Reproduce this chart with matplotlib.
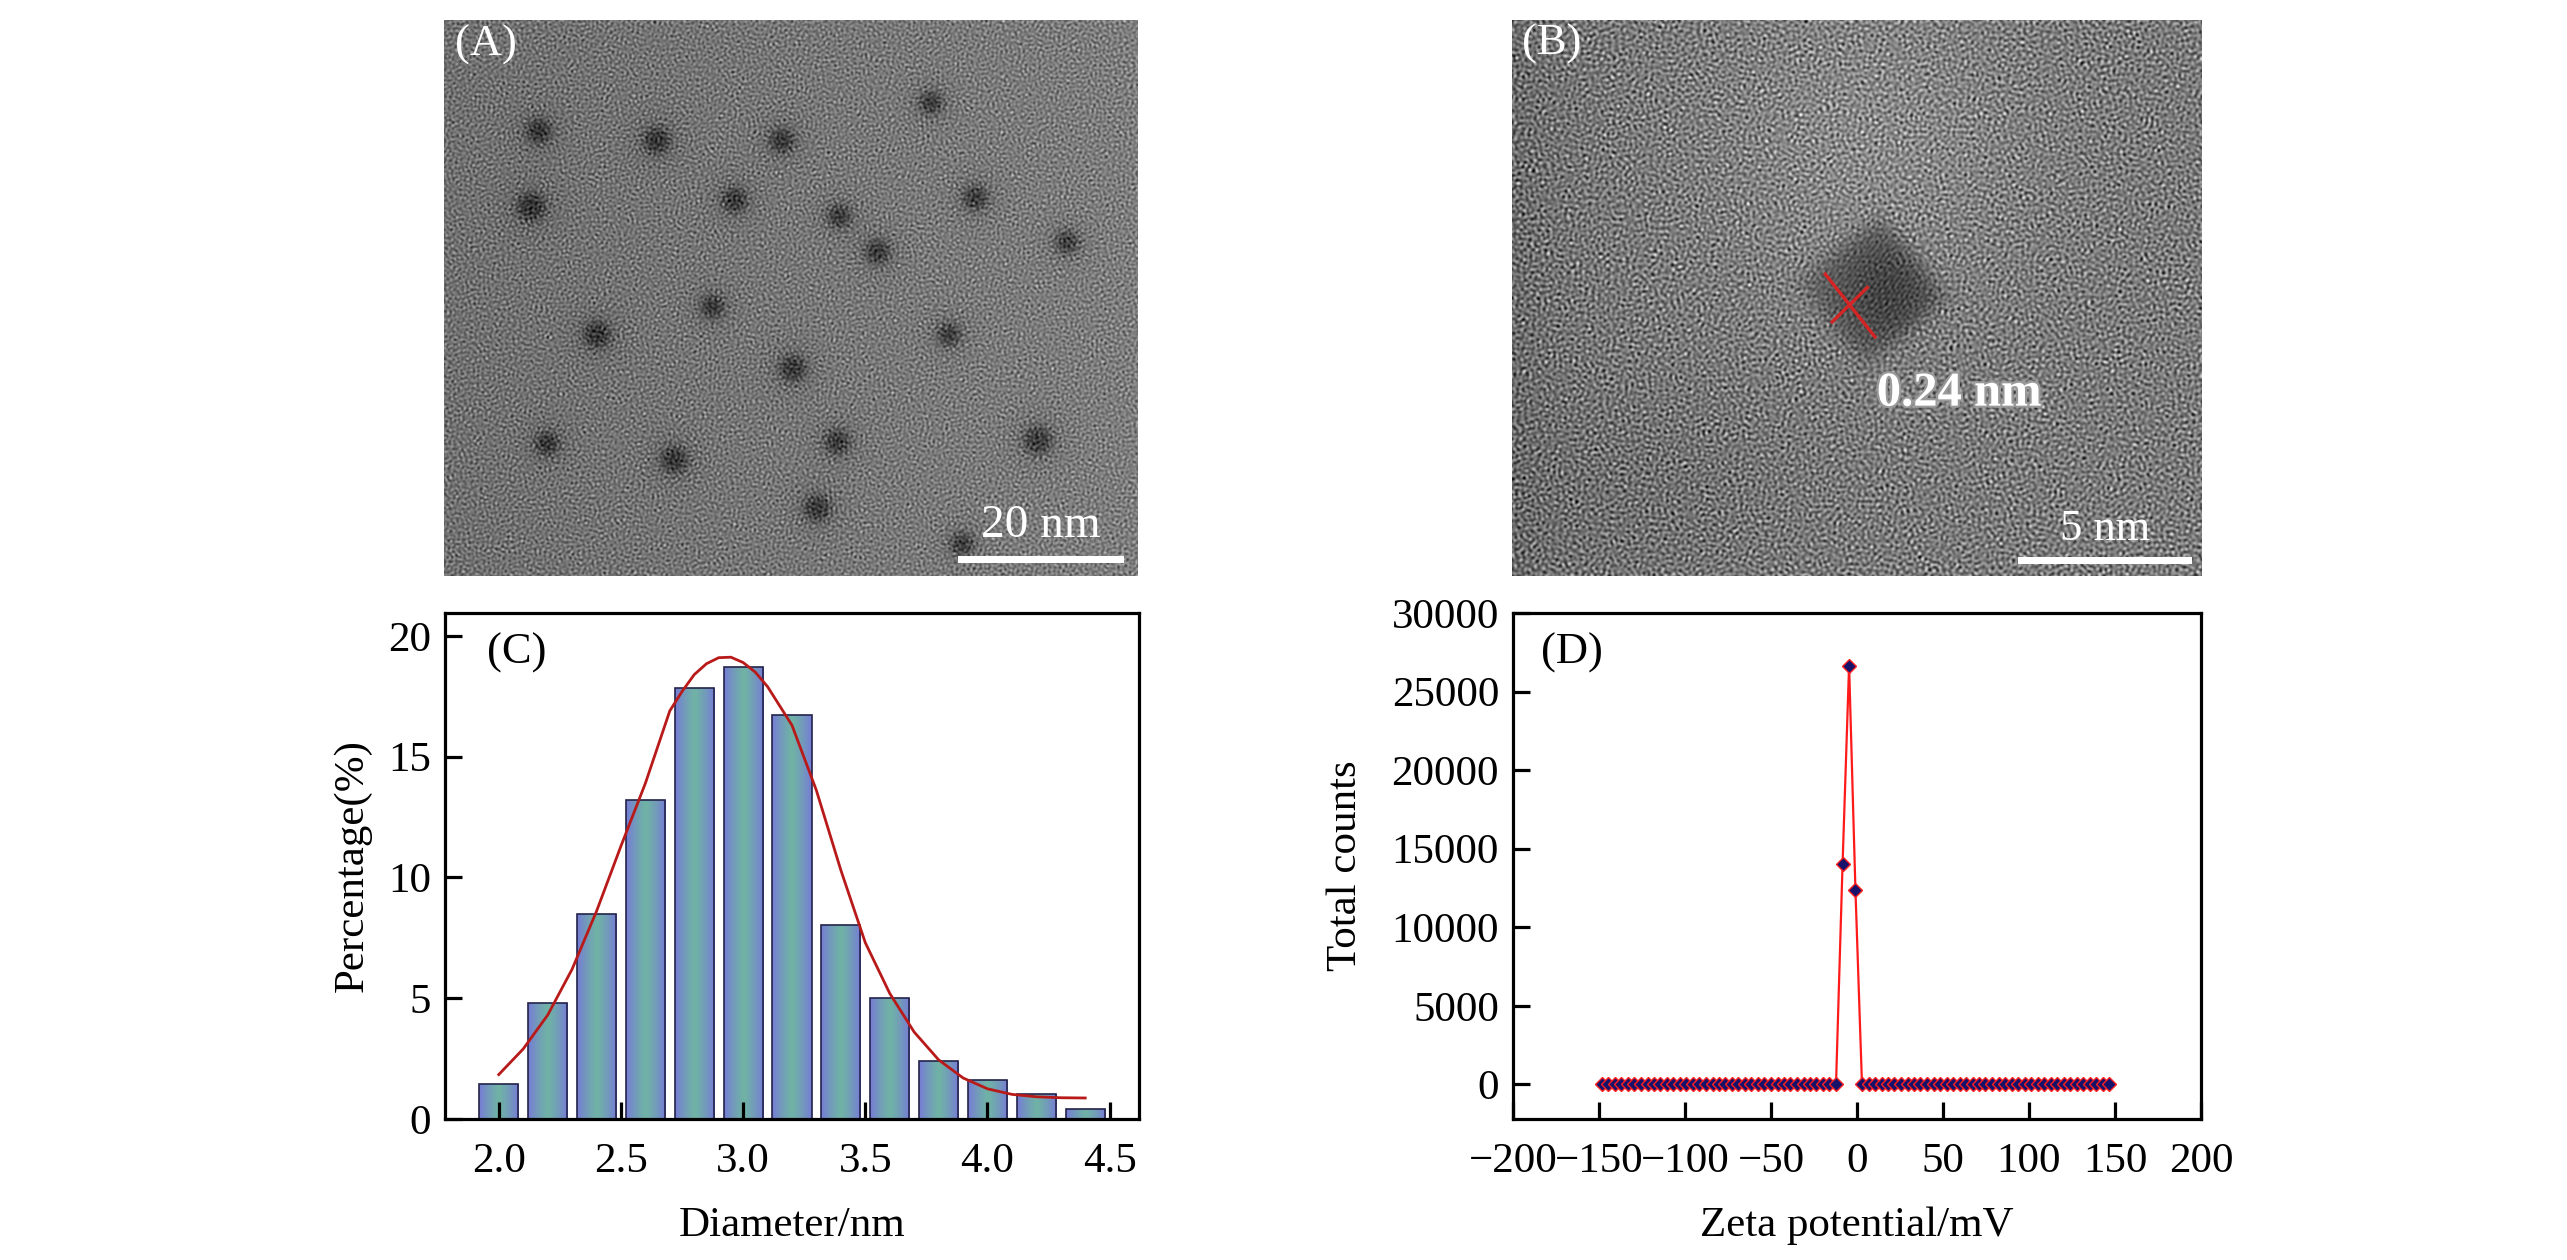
import numpy as np
import matplotlib.pyplot as plt
import matplotlib.patheffects as pe
from matplotlib.patches import Rectangle

plt.rcParams['font.family'] = ['Liberation Serif', 'DejaVu Serif']
plt.rcParams['axes.unicode_minus'] = True

# ---- (C) particle size distribution ----
diameter = [2.0, 2.2, 2.4, 2.6, 2.8, 3.0, 3.2, 3.4, 3.6, 3.8, 4.0, 4.2, 4.4]
percentage = [1.45, 4.79, 8.50, 13.19, 17.86, 18.70, 16.74, 8.04, 4.99, 2.40, 1.62, 1.03, 0.41]

# fitted curve
fit_x = [2.0, 2.1, 2.2, 2.3, 2.4, 2.5, 2.6, 2.7, 2.75, 2.8, 2.85, 2.9, 2.95,
         3.0, 3.05, 3.1, 3.2, 3.3, 3.4, 3.5, 3.6, 3.7, 3.8, 3.9, 4.0, 4.1,
         4.2, 4.3, 4.4]
fit_y = [1.84, 2.9, 4.3, 6.2, 8.6, 11.3, 13.9, 16.9, 17.7, 18.4, 18.85, 19.1, 19.12,
         18.9, 18.5, 17.9, 16.3, 13.6, 10.3, 7.3, 5.2, 3.6, 2.45, 1.7, 1.25, 1.02,
         0.92, 0.88, 0.87]

# ---- (D) zeta potential distribution ----
zeta_mv = [-148.3, -144.5, -140.7, -137.0, -133.2, -129.4, -125.6, -121.8, -118.1,
           -114.3, -110.5, -106.7, -102.9, -99.2, -95.4, -91.6, -87.8, -84.0,
           -80.3, -76.5, -72.7, -68.9, -65.1, -61.4, -57.6, -53.8, -50.0, -46.2,
           -42.5, -38.7, -34.9, -31.1, -27.3, -23.6, -19.8, -16.0, -12.2, -8.4,
           -4.6, -0.9, 2.9, 6.7, 10.5, 14.3, 18.0, 21.8, 25.6, 29.4, 33.2, 36.9,
           40.7, 44.5, 48.3, 52.1, 55.8, 59.6, 63.4, 67.2, 71.0, 74.7, 78.5, 82.3,
           86.1, 89.9, 93.6, 97.4, 101.2, 105.0, 108.8, 112.5, 116.3, 120.1, 123.9,
           127.7, 131.4, 135.2, 139.0, 142.8, 146.6]
zeta_counts = [0] * 37 + [14000, 26650, 12350] + [0] * 39

# ---- (A) TEM: particle centres (fraction of image) and radii (px) ----
tem_x = [0.136, 0.306, 0.486, 0.701, 0.125, 0.418, 0.569, 0.765, 0.897, 0.624,
         0.386, 0.220, 0.727, 0.502, 0.148, 0.331, 0.566, 0.855, 0.537, 0.746]
tem_y = [0.199, 0.216, 0.216, 0.148, 0.335, 0.323, 0.352, 0.319, 0.399, 0.416,
         0.515, 0.565, 0.565, 0.626, 0.761, 0.790, 0.758, 0.755, 0.877, 0.942]
tem_r = [11, 12, 11, 10, 13, 11, 10, 11, 10, 11,
         10, 12, 10, 12, 10, 12, 11, 13, 12, 10]


def grain(h, w, period, shift):
    """band-passed hash noise used as micrograph background grain (not data)"""
    yy, xx = np.mgrid[0:h, 0:w].astype(float)
    n = np.sin(xx * 12.9898 + yy * 78.233 + shift) * 43758.5453
    n = n - np.floor(n)
    F = np.fft.fft2(n - n.mean())
    fy = np.fft.fftfreq(h)[:, None]
    fx = np.fft.fftfreq(w)[None, :]
    fr = np.hypot(fx, fy)
    f0 = 1.0 / period
    filt = np.exp(-((fr - f0) / (0.4 * f0)) ** 2)
    t = np.real(np.fft.ifft2(F * filt))
    return t / t.std()


def tem_image_a(h=556, w=694):
    yy, xx = np.mgrid[0:h, 0:w].astype(float)
    img = 112 + 14 * (xx / w) + 19 * grain(h, w, 5.0, 0.0)
    for fx, fy, r in zip(tem_x, tem_y, tem_r):
        d = np.hypot(xx - fx * w, yy - fy * h)
        core = 1.0 / (1.0 + np.exp((d - r) / 2.8))
        halo = np.exp(-(d / (2.2 * r)) ** 2)
        img -= 52 * core + 12 * halo
    return np.clip(img, 0, 255)


def tem_image_b(h=556, w=690):
    yy, xx = np.mgrid[0:h, 0:w].astype(float)
    u, v = xx / w, yy / h
    img = 122 + 28 * grain(h, w, 6.0, 3.0)
    img += 16 * np.exp(-((u - 0.52) / 0.22) ** 2 - ((v - 0.22) / 0.28) ** 2)
    img -= 16 * np.exp(-u / 0.08)
    img -= 8 * np.exp(-((u - 0.2) / 0.2) ** 2 - ((v - 0.85) / 0.2) ** 2)
    # crystalline dot, roughly a diamond
    cx, cy = 360, 270
    a = np.deg2rad(6)
    p = (xx - cx) * np.cos(a) + (yy - cy) * np.sin(a)
    q = -(xx - cx) * np.sin(a) + (yy - cy) * np.cos(a)
    dist = (np.abs(p / 84) ** 1.15 + np.abs(q / 82) ** 1.15) ** (1 / 1.15)
    mask = 1.0 / (1.0 + np.exp((dist - 0.85) / 0.08))
    shade = np.exp(-(((xx - cx - 15) / 60) ** 2 + ((yy - cy) / 70) ** 2))
    fringe = np.cos(2 * np.pi * (xx * np.cos(0.6) + yy * np.sin(0.6)) / 4.2)
    img = img * (1 - 0.55 * mask) + mask * (0.45 * 110 - 40 * shade) + 10 * fringe * mask
    return np.clip(img, 0, 255)


W, H = 2567, 1260
fig = plt.figure(figsize=(W / 100, H / 100), dpi=100, facecolor='white')

ax_a = fig.add_axes([444 / W, 1 - 576 / H, 694 / W, 556 / H])
ax_b = fig.add_axes([1512 / W, 1 - 576 / H, 690 / W, 556 / H])
ax_c = fig.add_axes([445 / W, 1 - 1119 / H, 694 / W, 506 / H])
ax_d = fig.add_axes([1513 / W, 1 - 1119 / H, 688 / W, 506 / H])

# ===== (A) =====
ax_a.imshow(tem_image_a(), cmap='gray', vmin=0, vmax=255, extent=(0, 1, 0, 1),
            aspect='auto', interpolation='antialiased')
ax_a.set_axis_off()
ax_a.text(0.061, 0.955, '(A)', transform=ax_a.transAxes, color='white',
          fontsize=32, ha='center', va='center')
ax_a.add_patch(Rectangle((0.741, 0.024), 0.239, 0.012, transform=ax_a.transAxes,
                         facecolor='white', edgecolor='none'))
ax_a.text(0.860, 0.052, '20 nm', transform=ax_a.transAxes, color='white',
          fontsize=34, ha='center', va='bottom')

# ===== (B) =====
ax_b.imshow(tem_image_b(), cmap='gray', vmin=0, vmax=255, extent=(0, 1, 0, 1),
            aspect='auto', interpolation='antialiased')
ax_b.set_axis_off()
ax_b.text(0.058, 0.957, '(B)', transform=ax_b.transAxes, color='white',
          fontsize=32, ha='center', va='center')
ax_b.plot([0.454, 0.526], [1 - 0.457, 1 - 0.570], color='#d42424', lw=2.4,
          transform=ax_b.transAxes)
ax_b.plot([0.464, 0.515], [1 - 0.543, 1 - 0.481], color='#d42424', lw=2.4,
          transform=ax_b.transAxes)
ax_b.text(0.648, 0.328, '0.24 nm', transform=ax_b.transAxes, color='white',
          fontsize=35, fontweight='bold', ha='center', va='center',
          path_effects=[pe.withStroke(linewidth=3, foreground='#9a9a9a')])
ax_b.add_patch(Rectangle((0.734, 0.022), 0.252, 0.012, transform=ax_b.transAxes,
                         facecolor='white', edgecolor='none'))
ax_b.text(0.860, 0.048, '5 nm', transform=ax_b.transAxes, color='white',
          fontsize=32, ha='center', va='bottom')


def style_axes(ax):
    for s in ax.spines.values():
        s.set_linewidth(2.3)
    ax.tick_params(direction='in', length=12, width=2.3, labelsize=31,
                   top=False, right=False)
    ax.tick_params(axis='x', pad=17)
    ax.tick_params(axis='y', pad=10)


# ===== (C) =====
bars = ax_c.bar(diameter, percentage, width=0.16, facecolor='none',
                edgecolor='#23234a', linewidth=1.2, zorder=2)
edge_col = np.array([118, 124, 214]) / 255
mid_col = np.array([112, 178, 166]) / 255
t = np.abs(np.linspace(-1, 1, 64))
grad = (1 - t[:, None] ** 1.3) * mid_col + (t[:, None] ** 1.3) * edge_col
grad = grad[None, :, :]
for b in bars:
    x0, y0 = b.get_x(), b.get_y()
    im = ax_c.imshow(grad, extent=(x0, x0 + b.get_width(), y0, y0 + b.get_height()),
                     aspect='auto', interpolation='bilinear', zorder=1.5)
    im.set_clip_path(b)
ax_c.plot(fit_x, fit_y, color='#b81a1a', lw=2.0, zorder=4)
ax_c.set_xlim(1.78, 4.62)
ax_c.set_ylim(0, 20.95)
ax_c.set_xticks([2.0, 2.5, 3.0, 3.5, 4.0, 4.5])
ax_c.set_xticklabels(['2.0', '2.5', '3.0', '3.5', '4.0', '4.5'])
ax_c.set_yticks([0, 5, 10, 15, 20])
ax_c.set_axisbelow(False)
style_axes(ax_c)
ax_c.set_xlabel('Diameter/nm', fontsize=31, labelpad=18)
ax_c.set_ylabel('Percentage(%)', fontsize=31, labelpad=12)
ax_c.text(0.104, 0.922, '(C)', transform=ax_c.transAxes, fontsize=32,
          ha='center', va='center')

# ===== (D) =====
ax_d.plot(zeta_mv, zeta_counts, color='#ff1a1a', lw=1.6, marker='D', ms=6.8,
          mfc='#16126a', mec='#ff2020', mew=1.0, zorder=3)
ax_d.set_xlim(-200, 200)
ax_d.set_ylim(-2200, 30000)
ax_d.set_xticks([-200, -150, -100, -50, 0, 50, 100, 150, 200])
ax_d.set_yticks([0, 5000, 10000, 15000, 20000, 25000, 30000])
style_axes(ax_d)
ax_d.set_xlabel('Zeta potential/mV', fontsize=31, labelpad=18)
ax_d.set_ylabel('Total counts', fontsize=31, labelpad=19)
ax_d.text(0.085, 0.922, '(D)', transform=ax_d.transAxes, fontsize=32,
          ha='center', va='center')

fig.savefig('out.png', dpi=100, facecolor='white')
